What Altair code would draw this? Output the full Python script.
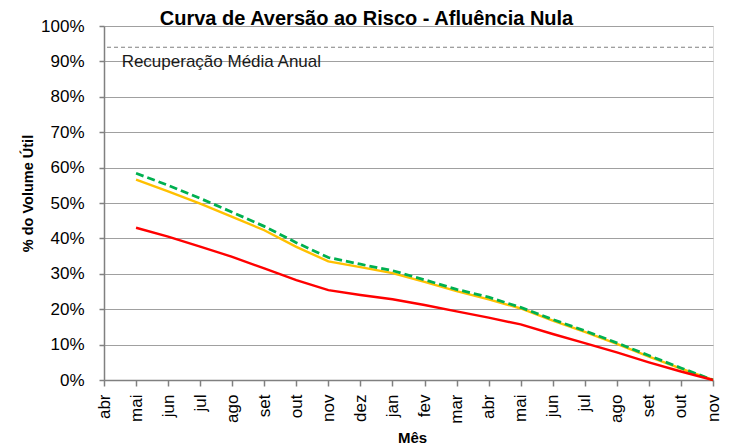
import altair as alt
import pandas as pd

# Category labels (x axis)
meses = ["abr", "mai", "jun", "jul", "ago", "set", "out", "nov", "dez", "jan",
         "fev", "mar", "abr", "mai", "jun", "jul", "ago", "set", "out", "nov"]

# Series values (% do volume útil), from mai (index 1) to nov (index 19)
idx = list(range(1, 20))
vermelha = [43.0, 40.5, 37.7, 34.8, 31.5, 28.2, 25.4, 24.0, 22.8, 21.2,
            19.4, 17.6, 15.7, 13.0, 10.4, 7.8, 5.0, 2.4, 0.0]
laranja = [56.6, 53.3, 49.8, 46.1, 42.3, 37.6, 33.5, 31.9, 30.2, 27.7,
           25.1, 22.8, 20.2, 16.8, 13.6, 10.2, 6.6, 3.2, 0.0]
verde = [58.4, 55.0, 51.3, 47.4, 43.4, 38.8, 34.6, 32.7, 30.9, 28.3,
         25.6, 23.4, 20.5, 17.1, 13.9, 10.5, 6.9, 3.4, 0.0]

recuperacao = [94.0]
anotacao = ["Recuperação Média Anual"]
anot_x = [0.55]
anot_y = [88.4]

y_ticks = [0, 10, 20, 30, 40, 50, 60, 70, 80, 90, 100]

FONT = "Liberation Sans"
GRAY = "#808080"

df_r = pd.DataFrame({"i": idx, "v": vermelha})
df_o = pd.DataFrame({"i": idx, "v": laranja})
df_g = pd.DataFrame({"i": idx, "v": verde})
df_rec = pd.DataFrame({"v": recuperacao})
df_txt = pd.DataFrame({"i": anot_x, "v": anot_y, "t": anotacao})

label_expr = "[" + ",".join("'%s'" % m for m in meses) + "][datum.value]"

x_enc = alt.X(
    "i:Q",
    scale=alt.Scale(domain=[0, len(meses) - 1], nice=False, zero=False),
    axis=alt.Axis(
        values=list(range(len(meses))),
        labelExpr=label_expr,
        labelAngle=270,
        labelFontSize=17,
        labelFont=FONT,
        labelColor="#000000",
        labelPadding=8,
        labelOffset=0,
        tickSize=6,
        tickColor=GRAY,
        tickWidth=1.5,
        domainColor=GRAY,
        domainWidth=1.5,
        grid=False,
        title="Mês",
        titleFont=FONT,
        titleFontSize=15,
        titleFontWeight="bold",
        titleColor="#000000",
        titleX=308,
        titleY=62,
        titleBaseline="alphabetic",
        titleAlign="center",
        labelOverlap=False,
        labelBound=False,
    ),
)

y_enc = alt.Y(
    "v:Q",
    scale=alt.Scale(domain=[0, 100], nice=False),
    axis=alt.Axis(
        values=y_ticks,
        labelExpr="datum.value + '%'",
        labelFontSize=17,
        labelFont=FONT,
        labelColor="#000000",
        labelPadding=15,
        tickSize=5,
        tickColor=GRAY,
        tickWidth=1.5,
        domainColor=GRAY,
        domainWidth=1.5,
        grid=True,
        gridColor="#A0A0A0",
        gridWidth=1.2,
        title="% do Volume Útil",
        titleFont=FONT,
        titleFontSize=14.5,
        titleFontWeight="bold",
        titleColor="#000000",
        titleX=-72,
        titleY=167,
        titleAngle=270,
        titleBaseline="alphabetic",
        titleAlign="center",
    ),
)

rec = alt.Chart(df_rec).mark_rule(color=GRAY, strokeWidth=1.2, strokeDash=[4, 3]).encode(y=y_enc)

txt = alt.Chart(df_txt).mark_text(
    align="left", baseline="alphabetic", font=FONT, fontSize=17, color="#1a1a1a"
).encode(x=x_enc, y=y_enc, text="t:N")

l_o = alt.Chart(df_o).mark_line(color="#FFC000", strokeWidth=2.4).encode(x=x_enc, y=y_enc)
l_g = alt.Chart(df_g).mark_line(color="#00B050", strokeWidth=2.8, strokeDash=[8, 4]).encode(x=x_enc, y=y_enc)
l_r = alt.Chart(df_r).mark_line(color="#FF0000", strokeWidth=2.4).encode(x=x_enc, y=y_enc)

chart = alt.layer(rec, txt, l_o, l_g, l_r).properties(
    width=609,
    height=354,
    title=alt.TitleParams(
        "Curva de Aversão ao Risco - Afluência Nula",
        font=FONT,
        fontSize=20,
        fontWeight="bold",
        color="#000000",
        anchor="middle",
        frame="group",
        dx=-42,
        offset=0,
        dy=28,
        baseline="alphabetic",
    ),
    autosize=alt.AutoSizeParams(type="none"),
    padding={"left": 96, "top": 18, "right": 8, "bottom": 66},
).configure_view(stroke=GRAY, strokeWidth=1.5).configure(background="white")

chart.save("out.html", embed_options={"renderer": "svg", "actions": False})
